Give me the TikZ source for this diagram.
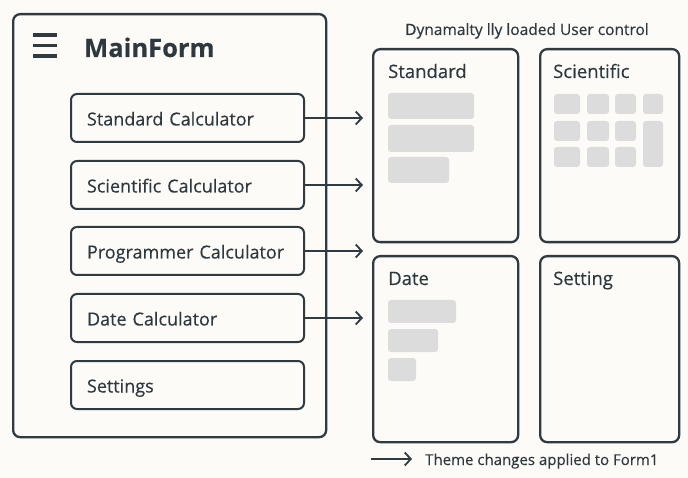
\documentclass[tikz,border=0pt]{standalone}
\usepackage{fontspec}
\setmainfont{Open Sans}[FakeBold=0.35]
\newfontfamily\boldface{Open Sans Bold}
\usetikzlibrary{arrows.meta}
\definecolor{ink}{HTML}{2F3A41}
\definecolor{txt}{HTML}{2E383F}
\definecolor{bar}{HTML}{DCDCDC}
\definecolor{bg}{HTML}{FCFBF8}
\tikzset{
  frame/.style={draw=ink, line width=2.3pt, rounded corners=7pt, anchor=north west, inner sep=0pt},
  btn/.style={draw=ink, line width=2pt, rounded corners=6pt, minimum height=48pt, text width=201pt,
     inner xsep=16pt, inner ysep=0pt, text height=15pt, text depth=0pt, align=left,
     font=\fontsize{18}{20}\selectfont, text=txt, anchor=west},
  ptitle/.style={anchor=base west, inner sep=0pt, font=\fontsize{18.5}{20}\selectfont, text=txt},
  blk/.style={fill=bar, rounded corners=3pt},
  conn/.style={draw=ink, line width=1.8pt, -{Straight Barb[length=6pt,width=13pt,line width=1.8pt]}},
}
\begin{document}
\begin{tikzpicture}[x=1pt,y=-1pt]
\fill[bg] (0,0) rectangle (688,478);
\useasboundingbox (0,0) rectangle (688,478);
% main form
\node[frame, minimum width=313pt, minimum height=423pt] (main) at (12,13) {};
\foreach \yy in {35,45.5,56} \draw[ink, line width=3.4pt] (33,\yy) -- (57,\yy);
\node[anchor=base west, inner sep=0pt, font=\bfseries\fontsize{25.5}{28}\selectfont, text=txt] (mtitle) at (84,57) {MainForm};
% buttons
\node[btn] (b1) at (70,118) {Standard Calculator};
\node[btn] (b2) at (70,185) {Scientific Calculator};
\node[btn] (b3) at (70,251) {Programmer Calculator};
\node[btn] (b4) at (70,318) {Date Calculator};
\node[btn] (b5) at (70,385) {Settings};
% panels
\node[frame, minimum width=145pt, minimum height=193pt] (pstd) at (372,48) {};
\node[frame, minimum width=139pt, minimum height=193pt] (psci) at (539,48) {};
\node[frame, minimum width=145pt, minimum height=186pt] (pdate) at (372,255) {};
\node[frame, minimum width=139pt, minimum height=186pt] (pset) at (539,255) {};
\node[anchor=base, inner sep=0pt, font=\fontsize{15.5}{18}\selectfont, text=txt] (head) at (527,35) {Dynamalty lly loaded User control};
\node[ptitle] (tstd) at (388,78) {Standard};
\node[ptitle] (tsci) at (553,78) {Scientific};
\node[ptitle] (tdate) at (388,285) {Date};
\node[ptitle] (tset) at (553,285) {Setting};
% standard bars
\fill[blk] (388,93) rectangle (474,119);
\fill[blk] (388,125) rectangle (474,152);
\fill[blk] (388,157) rectangle (449,183);
% scientific grid
\foreach \xa/\xb in {554/580,587/609,615/636} {
  \foreach \ya/\yb in {94/114,121/141,147/167} \fill[blk] (\xa,\ya) rectangle (\xb,\yb);
}
\fill[blk] (643,94) rectangle (663,114);
\fill[blk] (643,121) rectangle (663,167);
% date bars
\fill[blk] (388,300) rectangle (456,323);
\fill[blk] (388,329) rectangle (438,352);
\fill[blk] (388,358) rectangle (416,381);
% connectors
\coordinate (e1) at (363,118);
\coordinate (e2) at (363,185);
\coordinate (e3) at (363,251);
\coordinate (e4) at (363,318);
\draw[conn] (b1.east) -- (e1);
\draw[conn] (b2.east) -- (e2);
\draw[conn] (b3.east) -- (e3);
\draw[conn] (b4.east) -- (e4);
% legend
\coordinate (l1) at (371,459);
\node[anchor=base west, inner sep=0pt, font=\fontsize{15}{18}\selectfont, text=txt] (leg) at (425,465) {Theme changes applied to Form1};
\draw[conn] (l1) -- ([xshift=-13pt]leg.west |- l1);
\end{tikzpicture}
\end{document}
